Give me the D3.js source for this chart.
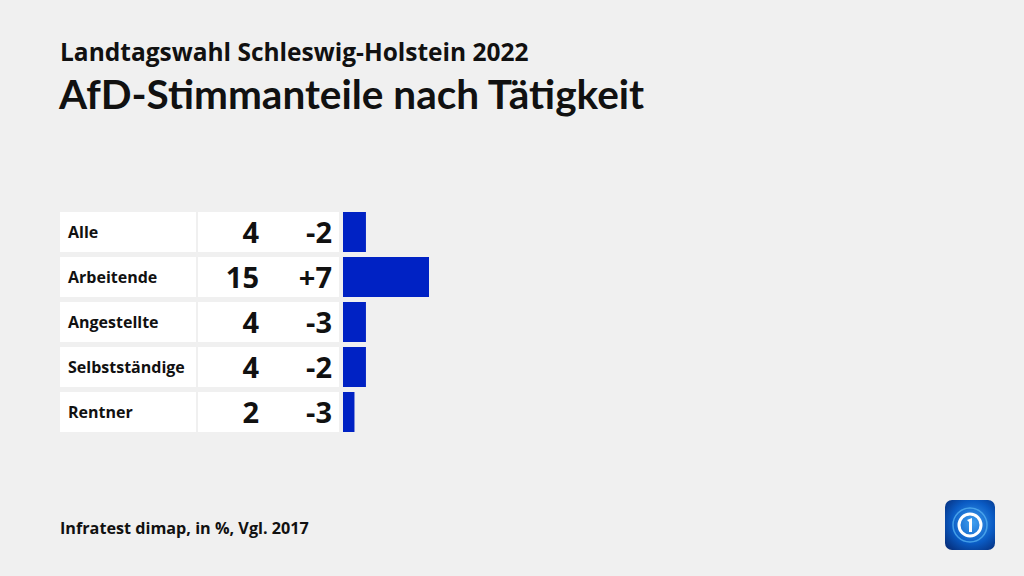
<!DOCTYPE html>
<html><head><meta charset="utf-8">
<script src="https://cdn.jsdelivr.net/npm/d3@7"></script>
<style>html,body{margin:0;padding:0;background:#f0f0f0;}svg{display:block;}</style>
</head><body>
<script>
const categories = ["Alle","Arbeitende","Angestellte","Selbstständige","Rentner"];
const shares = [4,15,4,4,2];
const changes = ["-2","+7","-3","-2","-3"];
const subtitle = "Landtagswahl Schleswig-Holstein 2022";
const title = "AfD-Stimmanteile nach Tätigkeit";
const source = "Infratest dimap, in %, Vgl. 2017";

const W=1024,H=576;
const font = "'Open Sans', Lato, sans-serif";
const svg=d3.select("body").append("svg").attr("width",W).attr("height",H);
svg.append("rect").attr("width",W).attr("height",H).attr("fill","#f0f0f0");

svg.append("text").attr("x",60).attr("y",61).text(subtitle)
  .attr("font-family",font).attr("font-weight",700).attr("font-size",24.5).attr("fill","#111");
svg.append("text").attr("x",59).attr("y",109).text(title)
  .attr("font-family","Lato, 'Open Sans', sans-serif").attr("font-weight",700).attr("font-size",40.5).attr("fill","#111");
svg.append("text").attr("x",60).attr("y",534).text(source)
  .attr("font-family",font).attr("font-weight",700).attr("font-size",16.2).attr("fill","#111");

const y=d3.scaleBand().domain(categories).range([212,432]).paddingInner(5/45).paddingOuter(0);
const x=d3.scaleLinear().domain([0,15]).range([343,429]);

const rows=svg.selectAll("g.row").data(categories).join("g").attr("class","row");
rows.append("rect").attr("x",60).attr("y",d=>y(d)).attr("width",136).attr("height",y.bandwidth()).attr("fill","#fff");
rows.append("rect").attr("x",198).attr("y",d=>y(d)).attr("width",141).attr("height",y.bandwidth()).attr("fill","#fff");
rows.append("text").attr("x",68).attr("y",d=>y(d)+y.bandwidth()/2+6).text(d=>d)
  .attr("font-family",font).attr("font-weight",700).attr("font-size",16).attr("fill","#111");
rows.append("text").attr("x",259).attr("y",d=>y(d)+y.bandwidth()/2+11).attr("text-anchor","end")
  .text((d,i)=>shares[i]).attr("font-family",font).attr("font-weight",700).attr("font-size",29).attr("fill","#111");
rows.append("text").attr("x",332).attr("y",d=>y(d)+y.bandwidth()/2+11).attr("text-anchor","end")
  .text((d,i)=>changes[i]).attr("font-family",font).attr("font-weight",700).attr("font-size",29).attr("fill","#111");
rows.append("rect").attr("x",x(0)).attr("y",d=>y(d)).attr("width",(d,i)=>x(shares[i])-x(0)).attr("height",y.bandwidth()).attr("fill","#0022c4");

// logo
const defs=svg.append("defs");
const g=defs.append("radialGradient").attr("id","lg").attr("cx","0.55").attr("cy","0.45").attr("r","0.7");
g.append("stop").attr("offset","0").attr("stop-color","#3fa0f0");
g.append("stop").attr("offset","0.6").attr("stop-color","#0a5bc4");
g.append("stop").attr("offset","1").attr("stop-color","#06307e");
const lg=svg.append("g").attr("transform","translate(945,500)");
lg.append("rect").attr("width",50).attr("height",50).attr("rx",7).attr("fill","url(#lg)");
lg.append("circle").attr("cx",25).attr("cy",25).attr("r",17).attr("fill","none").attr("stroke","#5ab8f5").attr("stroke-width",1.5).attr("opacity",0.7);
lg.append("circle").attr("cx",25).attr("cy",25).attr("r",11).attr("fill","none").attr("stroke","#fff").attr("stroke-width",3);
lg.append("path").attr("d","M22 20 L27 18 L27 32 L24 32 L24 22 Z").attr("fill","#fff");
</script>
</body></html>
